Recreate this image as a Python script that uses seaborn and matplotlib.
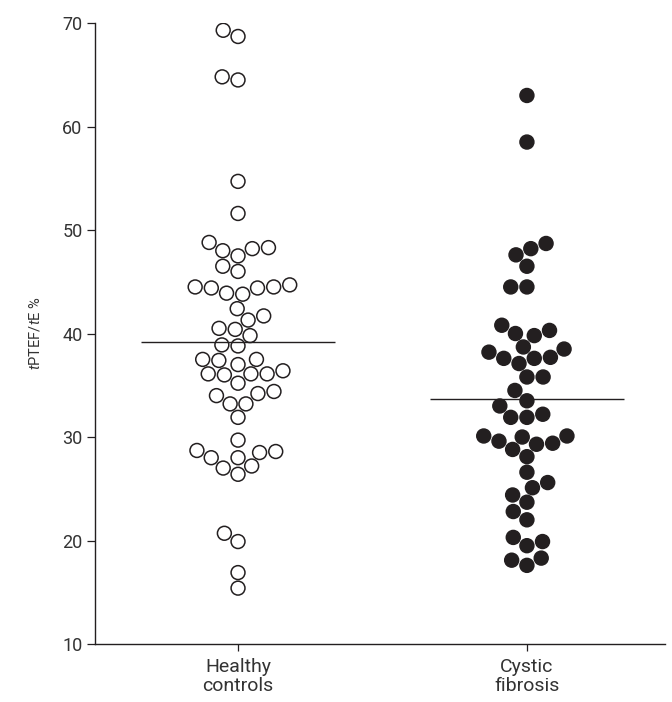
#!/usr/bin/env python3
"""Dot plot of tPTEF/tE % for healthy controls vs cystic fibrosis."""

import matplotlib as mpl
import matplotlib.pyplot as plt
import pandas as pd
import seaborn as sns

# values
healthy = [
    69.3, 68.7, 64.5, 64.8, 54.7, 51.6,
    48.3, 47.5, 48.2, 48.8, 48.0, 46.0, 46.5,
    44.5, 44.5, 43.9, 43.8, 44.4, 44.4, 44.7,
    42.4, 41.3, 41.7, 40.4, 40.5, 39.8, 38.9, 38.8,
    37.5, 37.0, 37.4, 37.5, 36.1, 36.1, 36.4, 36.1, 36.0,
    35.2, 34.2, 34.0, 34.4, 33.2, 33.2, 31.9,
    29.7, 28.0, 28.5, 27.2, 28.6, 26.4, 28.7, 27.0, 28.0,
    20.7, 19.9, 16.9, 15.4,
]
cystic = [
    63.0, 58.5, 48.7, 47.6, 48.2, 46.5, 44.5, 44.5,
    40.8, 40.0, 39.8, 40.3, 38.7, 38.2, 37.6, 37.1, 37.6, 37.7, 38.5,
    35.8, 35.8, 34.5, 33.5, 33.0, 32.2, 31.9, 31.9,
    30.1, 29.3, 29.4, 28.8, 29.6, 30.0, 30.1,
    28.1, 26.6, 25.6, 25.1, 24.4, 23.7, 22.8, 22.0,
    20.3, 19.9, 19.5, 18.3, 17.6, 18.1,
]
groups = ["Healthy\ncontrols", "Cystic\nfibrosis"]
y_ticks = [10, 20, 30, 40, 50, 60, 70]

INK = "#231f20"
TEXT = "#333333"


def main() -> None:
    sns.set_style("ticks")
    mpl.rcParams["font.family"] = ["Roboto", "DejaVu Sans"]
    mpl.rcParams["mathtext.fontset"] = "custom"
    mpl.rcParams["mathtext.it"] = "Roboto:italic"
    mpl.rcParams["mathtext.rm"] = "Roboto"

    df = pd.DataFrame(
        {
            "group": [groups[0]] * len(healthy) + [groups[1]] * len(cystic),
            "value": healthy + cystic,
        }
    )

    fig = plt.figure(figsize=(6.72, 7.02), dpi=100)
    ax = fig.add_axes([0.1414, 0.0826, 0.8482, 0.8846])

    sns.swarmplot(
        data=df,
        x="group",
        y="value",
        hue="group",
        order=groups,
        palette={groups[0]: "white", groups[1]: INK},
        edgecolor=INK,
        linewidth=1.1,
        size=10,
        legend=False,
        ax=ax,
    )

    means = df.groupby("group", sort=False)["value"].mean()
    for i, g in enumerate(groups):
        ax.hlines(means[g], i - 0.335, i + 0.335, color=INK, lw=1.0, zorder=3)

    ax.set_xlim(-0.495, 1.478)
    ax.set_ylim(10, 70)
    ax.set_yticks(y_ticks)
    ax.set_xlabel("")
    ax.set_ylabel(r"$t$PTEF/$t$E %", fontsize=10.5, color=TEXT, labelpad=14)
    ax.tick_params(axis="y", labelsize=13, colors=TEXT, length=6, width=0.9, color=INK, pad=3)
    ax.tick_params(axis="x", labelsize=14, colors=TEXT, length=5, width=0.9, color=INK, pad=5)
    for lbl in ax.get_xticklabels():
        lbl.set_linespacing(1.05)
    for side in ("left", "bottom"):
        ax.spines[side].set_color(INK)
        ax.spines[side].set_linewidth(1.0)
    sns.despine(ax=ax)

    fig.savefig("out.png", dpi=100)
    plt.close(fig)


if __name__ == "__main__":
    main()
